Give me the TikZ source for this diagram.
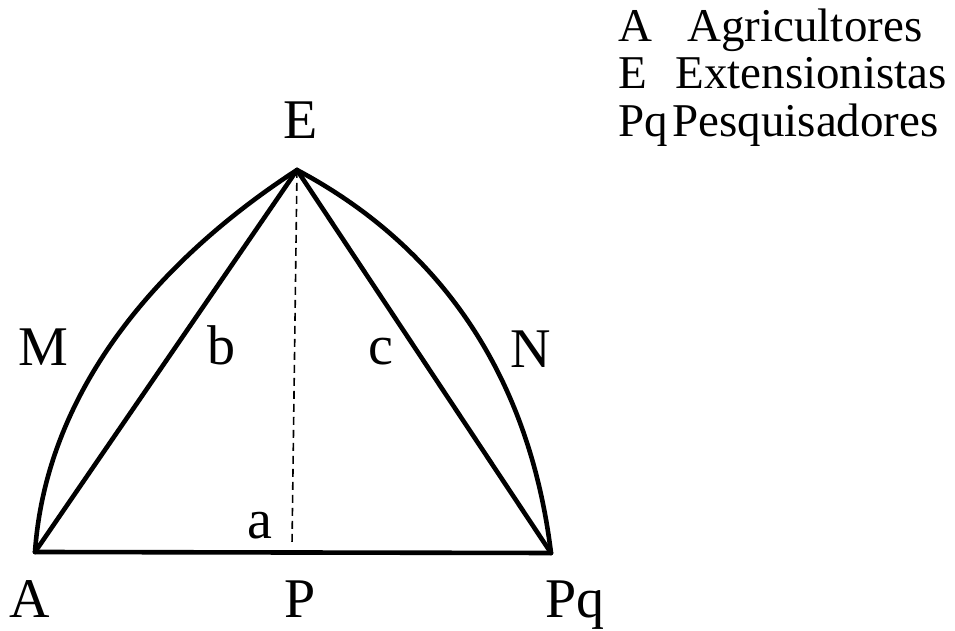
\documentclass[tikz,border=0pt]{standalone}
\usepackage{fontspec}
\setmainfont{Liberation Serif}
\usetikzlibrary{positioning}

\tikzset{
  side/.style={line width=2.3bp, line join=round, line cap=round},
  vlabel/.style={font=\fontsize{28bp}{30bp}\selectfont, inner sep=0pt, anchor=base},
  keylabel/.style={font=\fontsize{23.5bp}{26bp}\selectfont, inner sep=0pt, anchor=base west},
}

\begin{document}
\begin{tikzpicture}[x=0.5bp,y=0.5bp]
\useasboundingbox (0,0) rectangle (955,631);
%
\coordinate (A)  at (35,79);
\coordinate (Pq) at (551,78);
\coordinate (E)  at (297,461);
\coordinate (foot) at (292,86);

%
\draw[side] (A) -- (Pq);
\draw[side] (A) -- (E);
\draw[side] (E) -- (Pq);
\draw[side] (A) to[out=86,in=213,looseness=0.9] (E);
\draw[side] (E) to[out=-28,in=97,looseness=0.95] (Pq);
\draw[line width=0.8bp,dash pattern=on 4bp off 2.5bp] (E) -- (foot);

%
\node[vlabel] (lE)  at (301,492) {E};
\node[vlabel] (lM)  at (43,265)  {M};
\node[vlabel] (lb)  at (221,266) {b};
\node[vlabel] (lc)  at (381,266) {c};
\node[vlabel] (lN)  at (531,263) {N};
\node[vlabel] (la)  at (260,92)  {a};
\node[vlabel] (lA)  at (30,13)   {A};
\node[vlabel] (lP)  at (300,13)  {P};
\node[vlabel,anchor=base west] (lPq) at (545,13) {Pq};

%
\node[keylabel] (kA)  at (618,589) {A};
\node[keylabel] (wA)  at (687,589) {Agricultores};
\node[keylabel] (kE)  at (618,542) {E};
\node[keylabel] (wE)  at (675,542) {Extensionistas};
\node[keylabel] (kPq) at (618,494) {Pq};
\node[keylabel] (wPq) at (672,494) {Pesquisadores};
\end{tikzpicture}
\end{document}
